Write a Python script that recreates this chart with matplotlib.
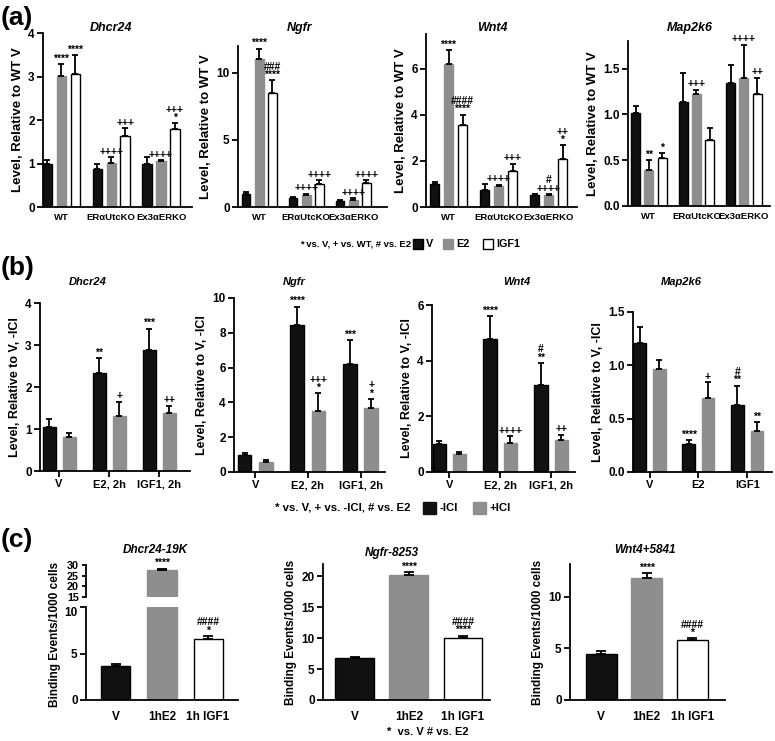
import matplotlib
matplotlib.use("Agg")
import matplotlib.pyplot as plt
from matplotlib.patches import Rectangle
from matplotlib import font_manager
import numpy as np

plt.rcParams['font.family'] = ['Liberation Sans', 'DejaVu Sans']
plt.rcParams['font.weight'] = 'bold'
plt.rcParams['axes.labelweight'] = 'bold'

_names = {f.name for f in font_manager.fontManager.ttflist}
NARROW = 'Liberation Sans Narrow' if 'Liberation Sans Narrow' in _names else None

W, H = 775, 741

# ---------------- data: panel (a) ----------------
a_groups = ["WT", "ERαUtcKO", "Ex3αERKO"]
a_series = ["V", "E2", "IGF1"]

a_dhcr24_V = [1.00, 0.87, 0.98]
a_dhcr24_V_err = [0.07, 0.13, 0.17]
a_dhcr24_E2 = [3.02, 1.02, 1.05]
a_dhcr24_E2_err = [0.27, 0.12, 0.02]
a_dhcr24_IGF1 = [3.06, 1.63, 1.80]
a_dhcr24_IGF1_err = [0.43, 0.18, 0.12]
a_dhcr24_V_sig = ["", "", ""]
a_dhcr24_E2_sig = ["****", "++++", "++++"]
a_dhcr24_IGF1_sig = ["****", "+++", "+++\n*"]

a_ngfr_V = [1.00, 0.65, 0.45]
a_ngfr_V_err = [0.15, 0.12, 0.05]
a_ngfr_E2 = [11.0, 0.90, 0.50]
a_ngfr_E2_err = [0.80, 0.10, 0.15]
a_ngfr_IGF1 = [8.50, 1.75, 1.80]
a_ngfr_IGF1_err = [0.95, 0.25, 0.20]
a_ngfr_V_sig = ["", "", ""]
a_ngfr_E2_sig = ["****", "++++", "++++"]
a_ngfr_IGF1_sig = ["###\n****", "++++", "++++"]

a_wnt4_V = [1.00, 0.75, 0.52]
a_wnt4_V_err = [0.10, 0.25, 0.04]
a_wnt4_E2 = [6.20, 0.92, 0.50]
a_wnt4_E2_err = [0.60, 0.05, 0.06]
a_wnt4_IGF1 = [3.55, 1.57, 2.08]
a_wnt4_IGF1_err = [0.45, 0.30, 0.60]
a_wnt4_V_sig = ["", "", ""]
a_wnt4_E2_sig = ["****", "++++", "#\n++++"]
a_wnt4_IGF1_sig = ["####\n****", "+++", "++\n*"]

a_map2k6_V = [1.01, 1.13, 1.34]
a_map2k6_V_err = [0.08, 0.32, 0.20]
a_map2k6_E2 = [0.39, 1.22, 1.40]
a_map2k6_E2_err = [0.11, 0.05, 0.36]
a_map2k6_IGF1 = [0.52, 0.72, 1.22]
a_map2k6_IGF1_err = [0.06, 0.13, 0.18]
a_map2k6_V_sig = ["", "", ""]
a_map2k6_E2_sig = ["**", "+++", "++++"]
a_map2k6_IGF1_sig = ["*", "", "++"]

# ---------------- data: panel (b) ----------------
b_groups = ["V", "E2, 2h", "IGF1, 2h"]
b_groups_map2k6 = ["V", "E2", "IGF1"]
b_series = ["-ICI", "+ICI"]

b_dhcr24_minus = [1.05, 2.33, 2.87]
b_dhcr24_minus_err = [0.18, 0.35, 0.52]
b_dhcr24_plus = [0.80, 1.30, 1.37]
b_dhcr24_plus_err = [0.10, 0.35, 0.18]
b_dhcr24_minus_sig = ["", "**", "***"]
b_dhcr24_plus_sig = ["", "+", "++"]

b_ngfr_minus = [1.00, 8.45, 6.22]
b_ngfr_minus_err = [0.10, 1.05, 1.35]
b_ngfr_plus = [0.60, 3.48, 3.70]
b_ngfr_plus_err = [0.07, 1.05, 0.50]
b_ngfr_minus_sig = ["", "****", "***"]
b_ngfr_plus_sig = ["", "+++\n*", "+\n*"]

b_wnt4_minus = [1.00, 4.78, 3.12]
b_wnt4_minus_err = [0.10, 0.82, 0.80]
b_wnt4_plus = [0.65, 1.03, 1.16]
b_wnt4_plus_err = [0.06, 0.25, 0.18]
b_wnt4_minus_sig = ["", "****", "#\n**"]
b_wnt4_plus_sig = ["", "++++", "++"]

b_map2k6_minus = [1.21, 0.26, 0.63]
b_map2k6_minus_err = [0.15, 0.04, 0.18]
b_map2k6_plus = [0.97, 0.69, 0.38]
b_map2k6_plus_err = [0.08, 0.15, 0.09]
b_map2k6_minus_sig = ["", "****", "#\n**"]
b_map2k6_plus_sig = ["", "+", "**"]

# ---------------- data: panel (c) ----------------
c_groups = ["V", "1hE2", "1h IGF1"]

c_dhcr24_vals = [3.7, 27.5, 6.6]
c_dhcr24_err = [0.15, 0.8, 0.3]
c_dhcr24_sig = ["", "****", "####\n*"]

c_ngfr_vals = [6.8, 20.3, 10.1]
c_ngfr_err = [0.15, 0.4, 0.3]
c_ngfr_sig = ["", "****", "####\n****"]

c_wnt4_vals = [4.5, 11.85, 5.85]
c_wnt4_err = [0.3, 0.45, 0.12]
c_wnt4_sig = ["", "****", "####\n*"]

BLACK = "#111111"
GRAY = "#8e8e8e"
WHITE = "#ffffff"

fig = plt.figure(figsize=(W / 100, H / 100), dpi=100)


def px_axes(l, t, r, b):
    return fig.add_axes([l / W, 1 - b / H, (r - l) / W, (b - t) / H])


def style(ax, lw=1.3, ls=8.5):
    for s in ["top", "right"]:
        ax.spines[s].set_visible(False)
    for s in ["left", "bottom"]:
        ax.spines[s].set_linewidth(lw)
    ax.tick_params(axis="both", width=lw, length=4, direction="out",
                   labelsize=ls, pad=2)
    for lab in ax.get_yticklabels() + ax.get_xticklabels():
        lab.set_fontweight("bold")


def annotate(ax, x, y, s, fs):
    ax.annotate(s, (x, y), xytext=(0, 0.3), textcoords="offset points",
                ha="center", va="bottom", fontsize=fs, fontweight="bold",
                linespacing=0.78, zorder=4, annotation_clip=False)


def draw_bars(ax, x, vals, errs, color, width, sigs, fs=8, elw=1.3, cap=2.5):
    ec = "black" if color != GRAY else GRAY
    ax.bar(x, vals, width=width, color=color, edgecolor=ec, linewidth=1.0, zorder=2)
    ax.errorbar(x, vals, yerr=[np.zeros(len(vals)), errs], fmt="none", ecolor="black",
                elinewidth=elw, capsize=cap, capthick=elw, zorder=3)
    for xi, v, e, s in zip(x, vals, errs, sigs):
        if s:
            annotate(ax, xi, v + e, s, fs)


# ---------------- row (a) ----------------
a_panels = [
    ("Dhcr24", (43, 33, 192, 207), 4, [0, 1, 2, 3, 4], None,
     [(a_dhcr24_V, a_dhcr24_V_err, a_dhcr24_V_sig),
      (a_dhcr24_E2, a_dhcr24_E2_err, a_dhcr24_E2_sig),
      (a_dhcr24_IGF1, a_dhcr24_IGF1_err, a_dhcr24_IGF1_sig)], (-0.37, 2.62), 111),
    ("Ngfr", (238, 46, 387, 207), 12, [0, 5, 10], None,
     [(a_ngfr_V, a_ngfr_V_err, a_ngfr_V_sig),
      (a_ngfr_E2, a_ngfr_E2_err, a_ngfr_E2_sig),
      (a_ngfr_IGF1, a_ngfr_IGF1_err, a_ngfr_IGF1_sig)], (-0.45, 2.72), 300),
    ("Wnt4", (426, 34, 577, 207), 7.5, [0, 2, 4, 6], None,
     [(a_wnt4_V, a_wnt4_V_err, a_wnt4_V_sig),
      (a_wnt4_E2, a_wnt4_E2_err, a_wnt4_E2_sig),
      (a_wnt4_IGF1, a_wnt4_IGF1_err, a_wnt4_IGF1_sig)], (-0.45, 2.57), 492),
    ("Map2k6", (628, 41, 770, 206), 1.8, [0, 0.5, 1.0, 1.5], "%.1f",
     [(a_map2k6_V, a_map2k6_V_err, a_map2k6_V_sig),
      (a_map2k6_E2, a_map2k6_E2_err, a_map2k6_E2_sig),
      (a_map2k6_IGF1, a_map2k6_IGF1_err, a_map2k6_IGF1_sig)], (-0.44, 2.55), 690),
]
a_colors = [BLACK, GRAY, WHITE]
a_offsets = [-0.28, 0.0, 0.28]
titles = []
for title, box, ymax, yt, fmt, series, xl, tx in a_panels:
    ax = px_axes(*box)
    xc = np.arange(len(a_groups))
    for (vals, errs, sigs), col, off in zip(series, a_colors, a_offsets):
        draw_bars(ax, xc + off, vals, errs, col, 0.19, sigs, fs=7.5)
    ax.set_ylim(0, ymax)
    ax.set_xlim(*xl)
    ax.set_yticks(yt)
    if fmt:
        ax.set_yticklabels([fmt % t for t in yt])
    ax.set_xticks(xc)
    ax.set_xticklabels(a_groups)
    style(ax)
    ax.tick_params(axis="x", length=0, pad=4)
    for lab in ax.get_xticklabels():
        if NARROW:
            lab.set_fontfamily([NARROW, 'Liberation Sans', 'DejaVu Sans'])
            lab.set_fontsize(8)
        else:
            lab.set_fontsize(6.8)
    ax.set_ylabel("Level, Relative to WT V", fontsize=9.5, fontweight="bold", labelpad=3)
    titles.append((title, tx, 28, 9))

# ---------------- row (b) ----------------
b_panels = [
    ("Dhcr24", (40, 303, 190, 471), 4, [0, 1, 2, 3, 4], None, b_groups,
     [(b_dhcr24_minus, b_dhcr24_minus_err, b_dhcr24_minus_sig),
      (b_dhcr24_plus, b_dhcr24_plus_err, b_dhcr24_plus_sig)], (-0.38, 2.61), 88),
    ("Ngfr", (234, 298, 385, 472), 10, [0, 2, 4, 6, 8, 10], None, b_groups,
     [(b_ngfr_minus, b_ngfr_minus_err, b_ngfr_minus_sig),
      (b_ngfr_plus, b_ngfr_plus_err, b_ngfr_plus_sig)], (-0.40, 2.46), 294),
    ("Wnt4", (432, 305, 575, 472), 6, [0, 2, 4, 6], None, b_groups,
     [(b_wnt4_minus, b_wnt4_minus_err, b_wnt4_minus_sig),
      (b_wnt4_plus, b_wnt4_plus_err, b_wnt4_plus_sig)], (-0.34, 2.47), 517),
    ("Map2k6", (633, 312, 772, 472), 1.5, [0, 0.5, 1.0, 1.5], "%.1f", b_groups_map2k6,
     [(b_map2k6_minus, b_map2k6_minus_err, b_map2k6_minus_sig),
      (b_map2k6_plus, b_map2k6_plus_err, b_map2k6_plus_sig)], (-0.34, 2.51), 681),
]
b_colors = [BLACK, GRAY]
b_offsets = [-0.2, 0.2]
for title, box, ymax, yt, fmt, groups, series, xl, tx in b_panels:
    ax = px_axes(*box)
    xc = np.arange(len(groups))
    for (vals, errs, sigs), col, off in zip(series, b_colors, b_offsets):
        draw_bars(ax, xc + off, vals, errs, col, 0.26, sigs, fs=7.5)
    ax.set_ylim(0, ymax)
    ax.set_xlim(*xl)
    ax.set_yticks(yt)
    if fmt:
        ax.set_yticklabels([fmt % t for t in yt])
    ax.set_xticks(xc)
    ax.set_xticklabels(groups)
    style(ax)
    ax.tick_params(axis="x", labelsize=8)
    ax.set_ylabel("Level, Relative to V, -ICI", fontsize=9, fontweight="bold", labelpad=3)
    titles.append((title, tx, 282, 8))

# ---------------- row (c) ----------------
c_colors = [BLACK, GRAY, WHITE]
xc = np.arange(len(c_groups))

# broken-axis panel Dhcr24-19K
ax_lo = px_axes(86, 607, 238, 700)
ax_hi = px_axes(86, 565, 238, 597)
for ax in (ax_lo, ax_hi):
    for xi, v, e, col in zip(xc, c_dhcr24_vals, c_dhcr24_err, c_colors):
        ec = "black" if col != GRAY else GRAY
        ax.bar(xi, v, width=0.63, color=col, edgecolor=ec, linewidth=1.0, zorder=2)
        ax.errorbar(xi, v, yerr=[[0], [e]], fmt="none", ecolor="black", elinewidth=1.3,
                    capsize=3.5, capthick=1.3, zorder=3)
    ax.set_xlim(-0.65, 2.65)
style(ax_lo, ls=8.5)
style(ax_hi, ls=7.8)
ax_lo.set_ylim(0, 10)
ax_lo.set_yticks([0, 5, 10])
ax_hi.set_ylim(15, 30)
ax_hi.set_yticks([15, 20, 25, 30])
ax_hi.spines["bottom"].set_visible(False)
ax_hi.set_xticks([])
ax_hi.tick_params(axis="y", length=3)
for lab in ax_hi.get_yticklabels():
    lab.set_fontweight("bold")
ax_lo.set_xticks(xc)
ax_lo.set_xticklabels(c_groups)
ax_lo.tick_params(axis="x", labelsize=8.5, length=0, pad=8)
for lab in ax_lo.get_xticklabels() + ax_lo.get_yticklabels():
    lab.set_fontweight("bold")
for lab in ax_lo.get_yticklabels():
    if lab.get_text() == "10":
        lab.set_verticalalignment("top")
for xi, v, e, s in zip(xc, c_dhcr24_vals, c_dhcr24_err, c_dhcr24_sig):
    if s:
        tgt = ax_hi if v > 15 else ax_lo
        annotate(tgt, xi, v + e, s, 7.5)
titles.append(("Dhcr24-19K", 155, 550, 8.5))
fig.text(55 / W, 1 - 634 / H, "Binding Events/1000 cells", rotation=90, ha="center",
         va="center", fontsize=8.5, fontweight="bold")

c_panels = [
    ("Ngfr-8253", (323, 564, 490, 700), 22, [0, 5, 10, 15, 20], c_ngfr_vals, c_ngfr_err,
     c_ngfr_sig, (-0.59, 2.5), 0.72, 392, 553),
    ("Wnt4+5841", (570, 564, 725, 700), 13.2, [0, 5, 10], c_wnt4_vals, c_wnt4_err,
     c_wnt4_sig, (-0.68, 2.72), 0.68, 645, 550),
]
for title, box, ymax, yt, vals, errs, sigs, xl, wd, tx, ty in c_panels:
    ax = px_axes(*box)
    for xi, v, e, col, s in zip(xc, vals, errs, c_colors, sigs):
        draw_bars(ax, [xi], [v], [e], col, wd, [s], fs=7.5, cap=3.5)
    ax.set_ylim(0, ymax)
    ax.set_xlim(*xl)
    ax.set_yticks(yt)
    ax.set_xticks(xc)
    ax.set_xticklabels(c_groups)
    style(ax)
    ax.tick_params(axis="x", labelsize=8.5, length=0, pad=8)
    ax.set_ylabel("Binding Events/1000 cells", fontsize=8.5, fontweight="bold", labelpad=3)
    titles.append((title, tx, ty, 8.5))

# ---------------- overlay: titles, panel letters & legends ----------------
ov = fig.add_axes([0, 0, 1, 1])
ov.set_xlim(0, W)
ov.set_ylim(H, 0)
ov.axis("off")
ov.patch.set_alpha(0)

for t, x, y, fs in titles:
    ov.text(x, y, t, fontsize=fs, fontweight="bold", style="italic", ha="center",
            va="center")

for txt, x, y in [("(a)", 1, 18), ("(b)", 1, 268), ("(c)", 1, 540)]:
    ov.text(x, y, txt, fontsize=19, fontweight="bold", ha="left", va="center")

# legend (a)
if NARROW:
    leg_kw = dict(fontsize=8, family=[NARROW, 'Liberation Sans', 'DejaVu Sans'])
else:
    leg_kw = dict(fontsize=6.8)
ov.text(300, 244, "* vs. V, + vs. WT, # vs. E2", fontweight="bold",
        ha="left", va="center", **leg_kw)
for (x0, col, lab) in [(413, BLACK, "V"), (443, GRAY, "E2"), (483, WHITE, "IGF1")]:
    ec = "black" if col != GRAY else GRAY
    ov.add_patch(Rectangle((x0, 239), 10, 10, facecolor=col, edgecolor=ec, linewidth=1.0))
    ov.text(x0 + 13, 244, lab, fontsize=7.8, fontweight="bold", ha="left", va="center")

# legend (b)
ov.text(275, 508, "* vs. V, + vs. -ICI, # vs. E2", fontsize=8.2, fontweight="bold",
        ha="left", va="center")
for (x0, col, lab) in [(423, BLACK, "-ICI"), (473, GRAY, "+ICI")]:
    ov.add_patch(Rectangle((x0, 502), 13, 12, facecolor=col, edgecolor=col, linewidth=1.0))
    ov.text(x0 + 17, 508, lab, fontsize=8.2, fontweight="bold", ha="left", va="center")

# footnote (c)
ov.text(387, 732, "*  vs. V # vs. E2", fontsize=8, fontweight="bold", ha="left",
        va="center")

fig.savefig("out.png", dpi=100)
